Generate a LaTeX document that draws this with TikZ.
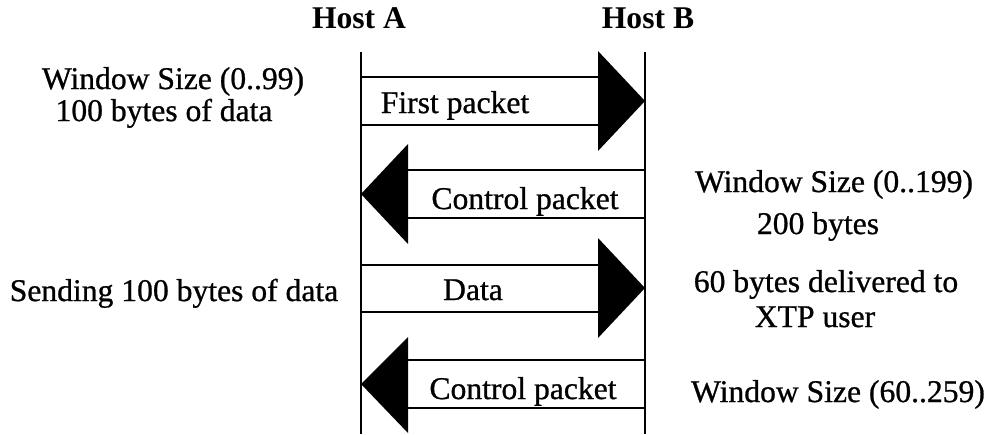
\documentclass[tikz,border=0pt]{standalone}
\usepackage{fontspec}
\setmainfont{Liberation Serif}
\newfontfamily\heavyserif[FakeBold=0.8]{Liberation Serif}
\begin{document}
\begin{tikzpicture}[x=0.02cm,y=-0.02cm,
  every node/.style={font=\heavyserif\fontsize{18}{20}\selectfont,inner sep=0pt,anchor=mid},
  hostname/.style={font=\fontsize{18}{20}\selectfont\bfseries},
  hostline/.style={line width=1.6pt},
  shaft/.style={line width=1.4pt}]
  \useasboundingbox (0,0) rectangle (997,434);
  % hosts
  \node[hostname] (hostA) at (359,24) {Host A};
  \node[hostname] (hostB) at (648,24) {Host B};
  \coordinate (Atop) at (361,52); \coordinate (Abot) at (361,434);
  \coordinate (Btop) at (645,52); \coordinate (Bbot) at (645,434);
  \draw[hostline] (Atop) -- (Abot);
  \draw[hostline] (Btop) -- (Bbot);
  % message rows
  \coordinate (A1) at (361,101); \coordinate (B1) at (645,101);
  \coordinate (A2) at (361,194); \coordinate (B2) at (645,194);
  \coordinate (A3) at (361,288); \coordinate (B3) at (645,288);
  \coordinate (A4) at (361,384); \coordinate (B4) at (645,384);
  % first packet
  \draw[shaft] (A1) ++(0,-24) -- ++(237,0);
  \draw[shaft] (A1) ++(0,24) -- ++(237,0);
  \fill (B1) -- ++(-47,-50) -- ++(0,100) -- cycle;
  \node (first) at (455,109) {First packet};
  % control packet
  \draw[shaft] (B2) ++(0,-24) -- ++(-237,0);
  \draw[shaft] (B2) ++(0,24) -- ++(-237,0);
  \fill (A2) -- ++(47,-50) -- ++(0,100) -- cycle;
  \node (ctrlA) at (525,205) {Control packet};
  % data
  \draw[shaft] (A3) ++(0,-23) -- ++(237,0);
  \draw[shaft] (A3) ++(0,24) -- ++(237,0);
  \fill (B3) -- ++(-47,-50) -- ++(0,100) -- cycle;
  \node (data) at (473,296) {Data};
  % second control packet
  \draw[shaft] (B4) ++(0,-24) -- ++(-237,0);
  \draw[shaft] (B4) ++(0,24) -- ++(-237,0);
  \fill (A4) -- ++(47,-47) -- ++(0,96) -- cycle;
  \node (ctrlB) at (523,395) {Control packet};
  % side notes
  \node (winA) at (173,85) {Window Size (0..99)};
  \node (bytesA) at (164,117) {100 bytes of data};
  \node (send) at (174,297) {Sending 100 bytes of data};
  \node (winB) at (834,188) {Window Size (0..199)};
  \node (bytesB) at (818,230) {200 bytes};
  \node (deliv) at (826,288) {60 bytes delivered to};
  \node (user) at (815,323) {XTP user};
  \node (winC) at (838,398) {Window Size (60..259)};
\end{tikzpicture}
\end{document}
